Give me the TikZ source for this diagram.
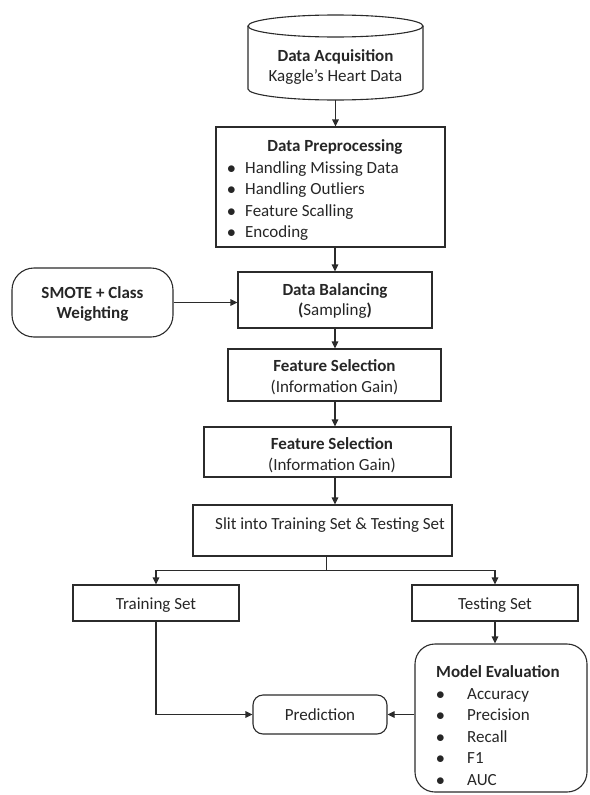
\documentclass[tikz,border=0pt]{standalone}
\usepackage{fontspec}
\setmainfont{Carlito}
\usetikzlibrary{arrows.meta,calc}
\definecolor{ln}{HTML}{2B2B2B}
\definecolor{tx}{HTML}{262626}
\tikzset{
  box/.style={draw=ln,line width=1.1pt,rectangle,inner sep=0pt,anchor=center},
  rbox/.style={box,rounded corners=#1},
  txt/.style={inner sep=0pt,text=tx,font=\fontsize{17}{20.5}\selectfont,align=center},
  ltxt/.style={inner sep=0pt,text=tx,font=\fontsize{17}{20.5}\selectfont,anchor=base west},
  btxt/.style={inner sep=0pt,text=tx,font=\fontsize{17}{20.5}\selectfont,anchor=base},
  arr/.style={draw=ln,line width=1.1pt,-{Triangle[length=7pt,width=6.5pt]}},
  ln/.style={draw=ln,line width=1.1pt}
}
\begin{document}
\begin{tikzpicture}[x=1pt,y=1pt]
\path[use as bounding box] (0,0) rectangle (589,-795);
% cylinder
\draw[ln] (248,-26) -- (248,-89) arc[start angle=180,end angle=360,x radius=87.5,y radius=11] -- (423,-26);
\draw[ln] (335.5,-26) ellipse [x radius=87.5, y radius=11];
\coordinate (acqb) at (335.5,-100);
\node[txt] (acq) at (335.5,-67) {\textbf{Data Acquisition}\\Kaggle’s Heart Data};
% preprocessing
\node[box,minimum width=229pt,minimum height=120pt] (prep) at (330.5,-187) {};
\node[btxt] (prept) at (335,-151) {\textbf{Data Preprocessing}};
\node[ltxt] (pb1) at (227,-173) {$\bullet$};
\node[ltxt] (pi1) at (245,-173) {Handling Missing Data};
\node[ltxt] (pb2) at (227,-194.5) {$\bullet$};
\node[ltxt] (pi2) at (245,-194.5) {Handling Outliers};
\node[ltxt] (pb3) at (227,-216) {$\bullet$};
\node[ltxt] (pi3) at (245,-216) {Feature Scalling};
\node[ltxt] (pb4) at (227,-237.5) {$\bullet$};
\node[ltxt] (pi4) at (245,-237.5) {Encoding};
% balancing
\node[box,minimum width=194pt,minimum height=56pt] (bal) at (335,-300) {};
\node[txt] (balt) at (335,-301) {\textbf{Data Balancing}\\\textbf{(}Sampling\textbf{)}};
\node[rbox=22pt,minimum width=161pt,minimum height=69pt] (smote) at (92.5,-302.5) {};
\node[txt] (smotet) at (92.5,-304) {\textbf{SMOTE + Class}\\\textbf{Weighting}};
% feature selection
\node[box,minimum width=213pt,minimum height=52pt] (fs1) at (334.5,-375) {};
\node[txt] (fs1t) at (334.5,-377) {\textbf{Feature Selection}\\(Information Gain)};
\node[box,minimum width=247pt,minimum height=50pt] (fs2) at (327.5,-452) {};
\node[txt] (fs2t) at (332,-455) {\textbf{Feature Selection}\\(Information Gain)};
% split
\node[box,minimum width=259pt,minimum height=51pt] (split) at (322.5,-530.5) {};
\node[btxt] (splitt) at (330,-529) {Slit into Training Set \& Testing Set};
% sets
\node[box,minimum width=166pt,minimum height=36pt] (train) at (156,-603) {};
\node[btxt] (traint) at (156,-609) {Training Set};
\node[box,minimum width=166pt,minimum height=36pt] (test) at (495,-603) {};
\node[btxt] (testt) at (495,-609) {Testing Set};
% prediction
\node[rbox=10pt,minimum width=134pt,minimum height=39pt] (pred) at (320,-714.5) {};
\node[btxt] (predt) at (320,-720) {Prediction};
% evaluation
\node[rbox=20pt,minimum width=172pt,minimum height=148pt] (eval) at (501,-718) {};
\node[ltxt] (evt) at (436,-677) {\textbf{Model Evaluation}};
\node[ltxt] (eb1) at (436,-699) {$\bullet$};
\node[ltxt] (ei1) at (467,-699) {Accuracy};
\node[ltxt] (eb2) at (436,-720.5) {$\bullet$};
\node[ltxt] (ei2) at (467,-720.5) {Precision};
\node[ltxt] (eb3) at (436,-742) {$\bullet$};
\node[ltxt] (ei3) at (467,-742) {Recall};
\node[ltxt] (eb4) at (436,-763.5) {$\bullet$};
\node[ltxt] (ei4) at (467,-763.5) {F1};
\node[ltxt] (eb5) at (436,-785) {$\bullet$};
\node[ltxt] (ei5) at (467,-785) {AUC};
% connectors
\draw[arr] (acqb) -- (acqb |- prep.north);
\draw[arr] (bal.north |- prep.south) -- (bal.north);
\draw[arr] (smote.east) -- (smote.east -| bal.west);
\draw[arr] (bal.south) -- (bal.south |- fs1.north);
\draw[arr] (bal.south |- fs1.south) -- (bal.south |- fs2.north);
\draw[arr] (bal.south |- fs2.south) -- (bal.south |- split.north);
\draw[ln] ($(split.south)+(4,0)$) -- ++(0,-14) coordinate (j);
\draw[arr] (j) -| (train.north);
\draw[arr] (j) -| (test.north);
\draw[arr] (test.south) -- (test.south |- eval.north);
\draw[arr] (train.south) |- (pred.west);
\draw[arr] (eval.west |- pred.east) -- (pred.east);
\end{tikzpicture}
\end{document}
